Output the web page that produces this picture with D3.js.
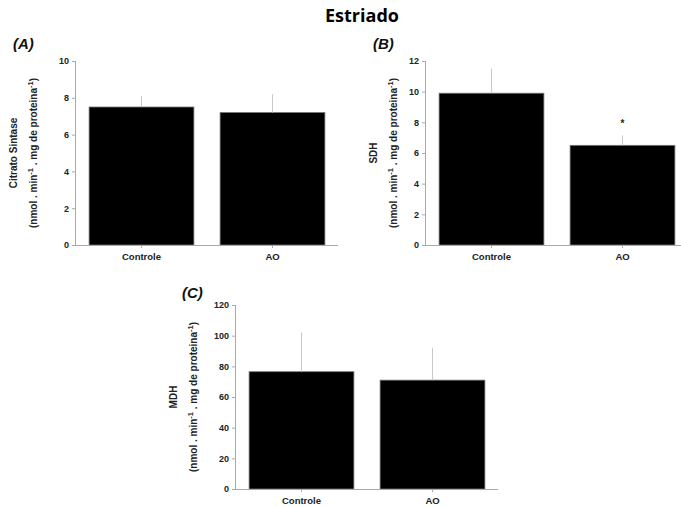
<!DOCTYPE html>
<html>
<head>
<meta charset="utf-8">
<script src="https://cdn.jsdelivr.net/npm/d3@7"></script>
<style>
  html, body { margin: 0; padding: 0; background: #fff; }
  svg { display: block; }
  text { font-family: "Liberation Sans", Arial, sans-serif; }
</style>
</head>
<body>
<script>
// Enzyme activity in the striatum: control vs AO groups
const categories = ["Controle", "AO"];

const csMean = [7.5, 7.2];
const csErr  = [0.6, 1.0];
const csTicks = [0, 2, 4, 6, 8, 10];

const sdhMean = [9.9, 6.5];
const sdhErr  = [1.6, 0.65];
const sdhTicks = [0, 2, 4, 6, 8, 10, 12];
const sdhSig = ["", "*"];

const mdhMean = [76.5, 71];
const mdhErr  = [25.5, 21];
const mdhTicks = [0, 20, 40, 60, 80, 100, 120];

const W = 681, H = 507;
const svg = d3.select("body").append("svg").attr("width", W).attr("height", H);

svg.append("text")
  .attr("x", 362).attr("y", 22)
  .attr("text-anchor", "middle")
  .style("font-family", "'Open Sans', 'Noto Sans', sans-serif")
  .style("font-weight", "700")
  .style("font-size", "18px")
  .text("Estriado");

function panel(opt) {
  const g = svg.append("g").attr("transform", `translate(${opt.x},${opt.y})`);
  const plotW = 262, plotH = 184;

  const x = d3.scaleBand().domain(categories).range([0, plotW])
    .paddingInner(0.2).paddingOuter(0.1);
  const y = d3.scaleLinear().domain([0, opt.max]).range([plotH, 0]);

  // bars
  g.selectAll("rect.bar").data(categories).join("rect")
    .attr("class", "bar")
    .attr("x", d => x(d))
    .attr("width", x.bandwidth())
    .attr("y", (d, i) => y(opt.mean[i]))
    .attr("height", (d, i) => plotH - y(opt.mean[i]))
    .attr("fill", "#000")
    .attr("stroke", "#777")
    .attr("stroke-width", 0.8);

  // upper error bars
  g.selectAll("line.err").data(categories).join("line")
    .attr("class", "err")
    .attr("x1", d => x(d) + x.bandwidth() / 2)
    .attr("x2", d => x(d) + x.bandwidth() / 2)
    .attr("y1", (d, i) => y(opt.mean[i]))
    .attr("y2", (d, i) => y(opt.mean[i] + opt.err[i]))
    .attr("stroke", "#c8c8c8")
    .attr("stroke-width", 1);

  if (opt.sig) {
    g.selectAll("text.sig").data(categories).join("text")
      .attr("class", "sig")
      .attr("x", d => x(d) + x.bandwidth() / 2)
      .attr("y", (d, i) => y(opt.mean[i] + opt.err[i]) - 8)
      .attr("text-anchor", "middle")
      .style("font-size", "10px")
      .style("font-weight", "700")
      .attr("fill", "#222")
      .text((d, i) => opt.sig[i]);
  }

  // y axis
  const ya = g.append("g")
    .call(d3.axisLeft(y).tickValues(opt.ticks).tickSize(4).tickPadding(3).tickFormat(d3.format("d")));
  ya.select(".domain").attr("stroke", "#aaa").attr("d", `M-0.5,${plotH}V0`);
  ya.selectAll(".tick line").attr("stroke", "#aaa");
  ya.selectAll(".tick text")
    .style("font-size", "9px").style("font-weight", "700")
    .style("font-family", "'Liberation Sans', Arial, sans-serif")
    .attr("fill", "#222");

  // x axis
  const xa = g.append("g").attr("transform", `translate(0,${plotH})`)
    .call(d3.axisBottom(x).tickSize(3).tickPadding(5));
  xa.select(".domain").attr("stroke", "#aaa").attr("d", `M0,0.5H${plotW}`);
  xa.selectAll(".tick line").attr("stroke", "#aaa");
  xa.selectAll(".tick text")
    .style("font-size", "9.5px").style("font-weight", "700")
    .style("font-family", "'Liberation Sans', Arial, sans-serif")
    .attr("fill", "#222");

  // y title, two lines
  const t = g.append("text")
    .attr("transform", `translate(${opt.titleX},${plotH / 2}) rotate(-90)`)
    .attr("text-anchor", "middle")
    .style("font-size", "10px").style("font-weight", "700")
    .attr("fill", "#222");
  t.append("tspan").attr("x", 0).attr("y", 0).text(opt.title);
  const l2 = g.append("text")
    .attr("transform", `translate(${opt.titleX + 20},${plotH / 2}) rotate(-90)`)
    .attr("text-anchor", "middle")
    .style("font-size", "10px").style("font-weight", "700")
    .attr("fill", "#222");
  l2.append("tspan").text("(nmol . min");
  l2.append("tspan").attr("dy", -4).style("font-size", "7.5px").text("-1");
  l2.append("tspan").attr("dy", 4).text(" . mg de proteina");
  l2.append("tspan").attr("dy", -4).style("font-size", "7.5px").text("-1");
  l2.append("tspan").attr("dy", 4).text(")");

  // panel label
  g.append("text")
    .attr("x", opt.labX).attr("y", opt.labY)
    .style("font-size", "15px").style("font-weight", "700").style("font-style", "italic")
    .attr("fill", "#111")
    .text(opt.label);
}

panel({ x: 76, y: 61, max: 10, ticks: csTicks, mean: csMean, err: csErr,
  title: "Citrato Sintase", titleX: -59, label: "(A)", labX: -63, labY: -12 });
panel({ x: 426, y: 61, max: 12, ticks: sdhTicks, mean: sdhMean, err: sdhErr, sig: sdhSig,
  title: "SDH", titleX: -49, label: "(B)", labX: -53, labY: -12 });
panel({ x: 236, y: 305, max: 120, ticks: mdhTicks, mean: mdhMean, err: mdhErr,
  title: "MDH", titleX: -59, label: "(C)", labX: -54, labY: -7 });
</script>
</body>
</html>
